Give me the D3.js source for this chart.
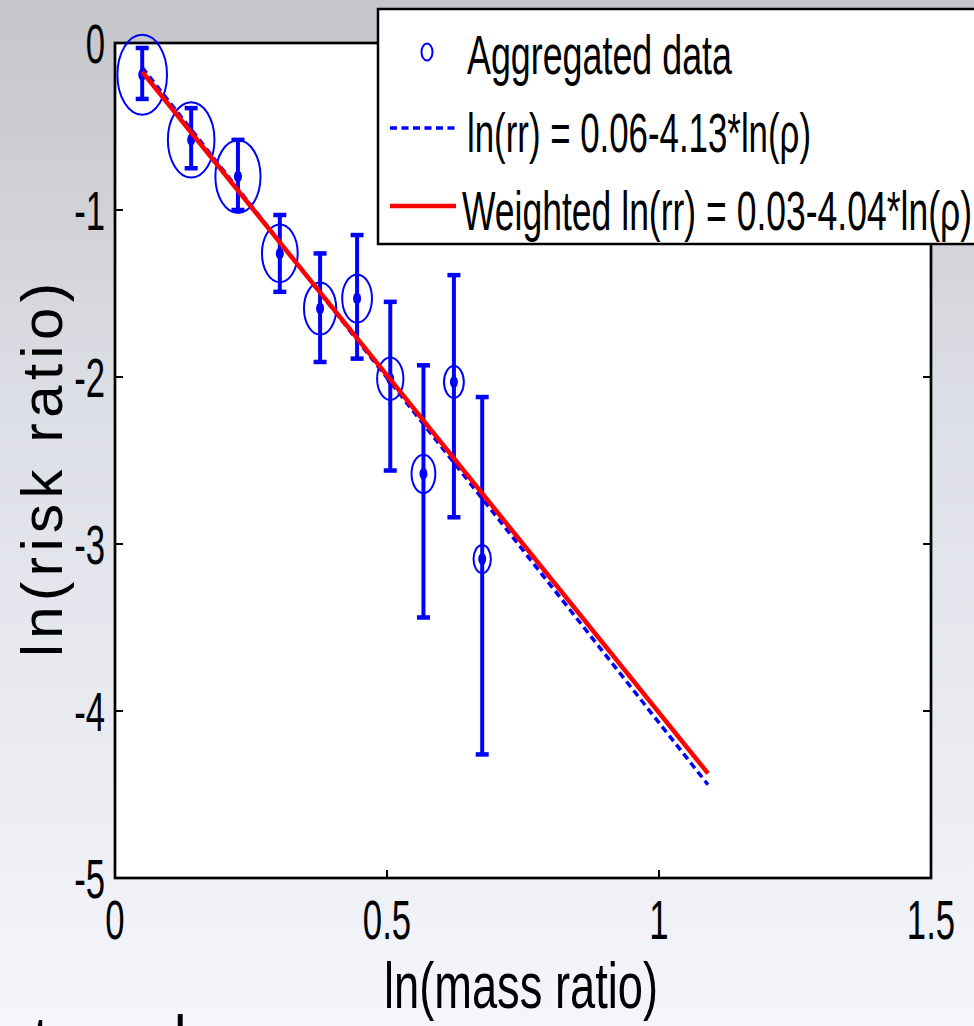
<!DOCTYPE html>
<html>
<head>
<meta charset="utf-8">
<script src="https://cdn.jsdelivr.net/npm/d3@7"></script>
<style>
  body { margin: 0; }
  svg { display: block; }
  text { font-family: "Liberation Sans", Arial, sans-serif; fill: #000; }
</style>
</head>
<body>
<div id="chart"></div>
<script>
// aggregated points: ln(mass ratio), ln(risk ratio), error bar ends, relative weight
const massRatio = [0.050, 0.140, 0.226, 0.303, 0.377, 0.445, 0.506, 0.567, 0.623, 0.675];
const riskRatio = [-0.19, -0.58, -0.80, -1.26, -1.59, -1.53, -2.01, -2.58, -2.03, -3.09];
const errHigh = [-0.03, -0.39, -0.58, -1.03, -1.26, -1.15, -1.55, -1.93, -1.39, -2.12];
const errLow = [-0.335, -0.75, -1.00, -1.49, -1.91, -1.89, -2.56, -3.44, -2.84, -4.26];
const pointWeight = [1.0, 0.94, 0.91, 0.72, 0.65, 0.60, 0.53, 0.48, 0.40, 0.35];

// fitted lines
const fitIntercepts = [0.06, 0.03];
const fitSlopes = [-4.13, -4.04];
const fitRange = [0.05, 1.09];

const xTicks = [0, 0.5, 1, 1.5];
const yTicks = [0, -1, -2, -3, -4, -5];
const legendLabels = ['Aggregated data', 'ln(rr) = 0.06-4.13*ln(\u03c1)', 'Weighted ln(rr) = 0.03-4.04*ln(\u03c1)'];

function makeChart() {
    const width = 974,
        height = 1026,
        left = 115, right = 931, top = 43, bottom = 878,
        squeeze = 0.62;   // the picture is squashed sideways

    const x = d3.scaleLinear().domain([0, 1.5]).range([left, right]);
    const y = d3.scaleLinear().domain([-5, 0]).range([bottom, top]);
    const ry = d3.scaleLinear().domain([0, 1]).range([0, 40]);

    let svg = d3.select('#chart').append('svg')
        .attr('width', width)
        .attr('height', height);

    let defs = svg.append('defs');
    let grad = defs.append('linearGradient')
        .attr('id', 'bg')
        .attr('x1', 0).attr('y1', 0).attr('x2', 0).attr('y2', 1);
    grad.append('stop').attr('offset', '0%').attr('stop-color', '#c5c5ca');
    grad.append('stop').attr('offset', '40%').attr('stop-color', '#dcdfe5');
    grad.append('stop').attr('offset', '100%').attr('stop-color', '#f4f6fb');

    svg.append('rect')
        .attr('width', width)
        .attr('height', height)
        .attr('fill', 'url(#bg)');

    // bits of slide text peeking in at the bottom
    svg.append('text').attr('x', 33).attr('y', 1056).attr('font-size', 56).text('t');
    svg.append('text').attr('x', 174).attr('y', 1054).attr('font-size', 56).text('l');

    // plot area
    svg.append('rect')
        .attr('x', left).attr('y', top)
        .attr('width', right - left).attr('height', bottom - top)
        .attr('fill', '#fff');

    let axes = svg.append('g')
        .attr('stroke', '#000')
        .attr('stroke-width', 2);

    const tickLen = 8;
    xTicks.forEach(t => {
        axes.append('line').attr('x1', x(t)).attr('x2', x(t)).attr('y1', bottom).attr('y2', bottom - tickLen);
        axes.append('line').attr('x1', x(t)).attr('x2', x(t)).attr('y1', top).attr('y2', top + tickLen);
    });
    yTicks.forEach(t => {
        axes.append('line').attr('x1', left).attr('x2', left + tickLen).attr('y1', y(t)).attr('y2', y(t));
        axes.append('line').attr('x1', right).attr('x2', right - tickLen).attr('y1', y(t)).attr('y2', y(t));
    });

    svg.append('rect')
        .attr('x', left).attr('y', top)
        .attr('width', right - left).attr('height', bottom - top)
        .attr('fill', 'none')
        .attr('stroke', '#000')
        .attr('stroke-width', 2.7);

    // tick labels
    xTicks.forEach(t => {
        svg.append('text')
            .attr('transform', 'translate(' + x(t) + ',939) scale(' + squeeze + ',1)')
            .attr('font-size', 56)
            .attr('text-anchor', 'middle')
            .text(t);
    });
    yTicks.forEach(t => {
        svg.append('text')
            .attr('transform', 'translate(105,' + (y(t) + 20) + ') scale(' + squeeze + ',1)')
            .attr('font-size', 56)
            .attr('text-anchor', 'end')
            .text(t);
    });

    // axis titles
    svg.append('text')
        .attr('x', 384).attr('y', 1008)
        .attr('font-size', 64)
        .attr('textLength', 274)
        .attr('lengthAdjust', 'spacingAndGlyphs')
        .text('ln(mass ratio)');

    svg.append('text')
        .attr('transform', 'translate(62,657) rotate(-90)')
        .attr('font-size', 58)
        .attr('textLength', 374)
        .attr('lengthAdjust', 'spacing')
        .text('ln(risk ratio)');

    // data points
    const points = massRatio.map((m, i) => ({
        x: m, y: riskRatio[i], lo: errLow[i], hi: errHigh[i], w: pointWeight[i]
    }));

    let pts = svg.append('g')
        .attr('class', 'points')
        .selectAll('g')
        .data(points)
        .enter().append('g');

    pts.append('ellipse')
        .attr('cx', d => x(d.x))
        .attr('cy', d => y(d.y))
        .attr('rx', d => ry(d.w) * squeeze)
        .attr('ry', d => ry(d.w))
        .attr('fill', 'none')
        .attr('stroke', '#0000ff')
        .attr('stroke-width', 2);

    pts.append('line')
        .attr('x1', d => x(d.x)).attr('x2', d => x(d.x))
        .attr('y1', d => y(d.lo)).attr('y2', d => y(d.hi))
        .attr('stroke', '#0000ff')
        .attr('stroke-width', 4);

    [d => d.lo, d => d.hi].forEach(end => {
        pts.append('line')
            .attr('x1', d => x(d.x) - 6.5).attr('x2', d => x(d.x) + 6.5)
            .attr('y1', d => y(end(d))).attr('y2', d => y(end(d)))
            .attr('stroke', '#0000ff')
            .attr('stroke-width', 4.5);
    });

    pts.append('ellipse')
        .attr('cx', d => x(d.x))
        .attr('cy', d => y(d.y))
        .attr('rx', 4)
        .attr('ry', 6)
        .attr('fill', '#0000ff');

    // fit lines
    const line = d3.line().x(d => x(d[0])).y(d => y(d[1]));
    const fitColors = ['#0000ff', '#ff0000'];
    const fitWidths = [3.5, 4.5];
    const fitDash = ['7,4.5', null];

    fitIntercepts.forEach((a, k) => {
        const b = fitSlopes[k];
        svg.append('path')
            .datum(fitRange.map(v => [v, a + b * v]))
            .attr('d', line)
            .attr('fill', 'none')
            .attr('stroke', fitColors[k])
            .attr('stroke-width', fitWidths[k])
            .attr('stroke-dasharray', fitDash[k]);
    });

    // legend
    let legend = svg.append('g').attr('class', 'legend');
    legend.append('rect')
        .attr('x', 378).attr('y', 9)
        .attr('width', 640).attr('height', 235)
        .attr('fill', '#fff')
        .attr('stroke', '#000')
        .attr('stroke-width', 2.5);

    const rowBase = [74, 152, 230];
    const textX = [467, 467, 462];
    const textLen = [265, 344, 510];

    legend.append('ellipse')
        .attr('cx', 427).attr('cy', rowBase[0] - 22)
        .attr('rx', 5.5).attr('ry', 8.5)
        .attr('fill', 'none')
        .attr('stroke', '#0000ff')
        .attr('stroke-width', 2);

    [1, 2].forEach(r => {
        legend.append('line')
            .attr('x1', 390).attr('x2', 456)
            .attr('y1', rowBase[r] - 24).attr('y2', rowBase[r] - 24)
            .attr('stroke', fitColors[r - 1])
            .attr('stroke-width', r === 1 ? 3.5 : 4.5)
            .attr('stroke-dasharray', fitDash[r - 1]);
    });

    legendLabels.forEach((lab, r) => {
        legend.append('text')
            .attr('x', textX[r]).attr('y', rowBase[r])
            .attr('font-size', 56)
            .attr('textLength', textLen[r])
            .attr('lengthAdjust', 'spacingAndGlyphs')
            .text(lab);
    });
}

makeChart();
</script>
</body>
</html>
